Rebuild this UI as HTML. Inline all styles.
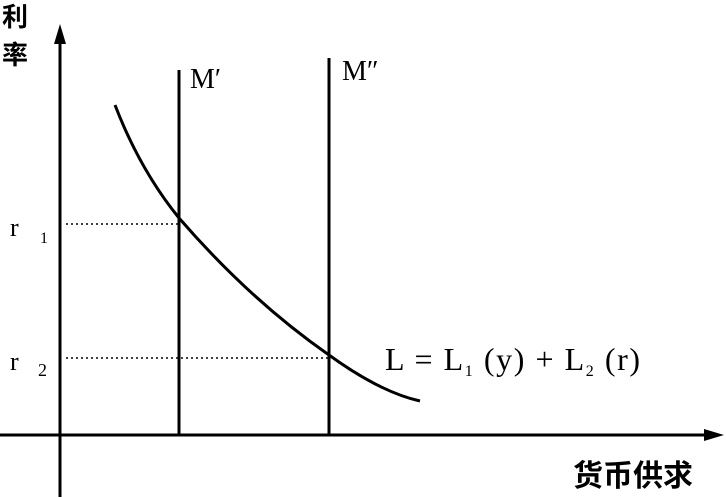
<!DOCTYPE html>
<html><head><meta charset="utf-8"><style>
html,body{margin:0;padding:0;background:#fff;width:726px;height:497px;overflow:hidden}
svg{display:block}
text{font-family:"Liberation Serif","Noto Serif CJK SC",serif;fill:#000}
.c{font-family:"Liberation Sans","Noto Sans CJK SC",sans-serif;font-weight:bold}
</style></head><body>
<svg width="726" height="497" viewBox="0 0 726 497">
<g stroke="#000" stroke-width="3" fill="none">
<line x1="60" y1="38" x2="60" y2="497"/>
<line x1="0" y1="435" x2="712" y2="435"/>
<line x1="179" y1="70" x2="179" y2="436"/>
<line x1="329" y1="58" x2="329" y2="436"/>
<path d="M115,105 Q140,170 179,218 Q250,300 329,355 Q380,392 420,401"/>
</g>
<polygon points="60,24 54,44 66,44" fill="#000"/>
<polygon points="724,435 704,429 704,441" fill="#000"/>
<g stroke="#000" stroke-width="1.5" stroke-dasharray="2,3">
<line x1="66" y1="224" x2="179" y2="224"/>
<line x1="66" y1="358" x2="329" y2="358"/>
</g>
<text class="c" x="2" y="26" font-size="26">利</text>
<text class="c" x="2" y="64" font-size="26">率</text>
<text x="10" y="236" font-size="26">r</text>
<text x="40" y="243" font-size="16">1</text>
<text x="10" y="370" font-size="26">r</text>
<text x="38" y="376" font-size="18">2</text>
<text x="190" y="88" font-size="28">M′</text>
<text x="342" y="80" font-size="28">M″</text>
<text x="385" y="370" font-size="32" textLength="255" lengthAdjust="spacing">L = L<tspan font-size="16" dy="6">1</tspan><tspan dy="-6"> (y) + L</tspan><tspan font-size="16" dy="6">2</tspan><tspan dy="-6"> (r)</tspan></text>
<text class="c" x="573" y="486" font-size="30">货币供求</text>
</svg>
</body></html>
